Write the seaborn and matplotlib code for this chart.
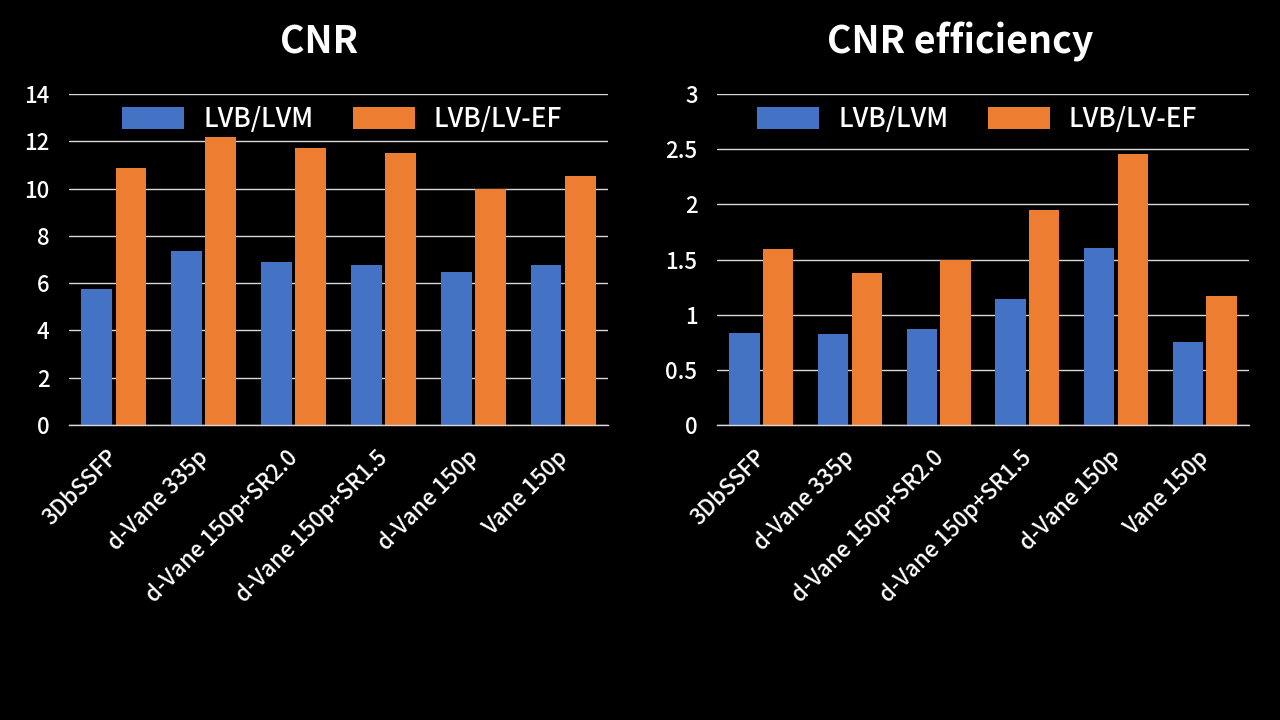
import pandas as pd
import matplotlib
matplotlib.use('Agg')
import matplotlib.pyplot as plt
import matplotlib.transforms as mtransforms
import seaborn as sns

# --- data ---
methods = ['3DbSSFP', 'd-Vane 335p', 'd-Vane 150p+SR2.0',
           'd-Vane 150p+SR1.5', 'd-Vane 150p', 'Vane 150p']
series_names = ['LVB/LVM', 'LVB/LV-EF']

cnr_lvm = [5.76, 7.37, 6.90, 6.77, 6.48, 6.77]
cnr_ef = [10.88, 12.19, 11.73, 11.52, 9.98, 10.54]

eff_lvm = [0.835, 0.826, 0.871, 1.143, 1.606, 0.753]
eff_ef = [1.597, 1.379, 1.494, 1.950, 2.458, 1.170]

cnr_ticks = [0, 2, 4, 6, 8, 10, 12, 14]
eff_ticks = [0, 0.5, 1, 1.5, 2, 2.5, 3]
eff_ticklabels = ['0', '0.5', '1', '1.5', '2', '2.5', '3']

colors = ['#4472C4', '#ED7D31']


def long_df(a, b):
    return pd.DataFrame({
        'method': methods * 2,
        'series': [series_names[0]] * len(methods) + [series_names[1]] * len(methods),
        'value': a + b,
    })


sns.set_style('dark')
plt.rcParams['font.family'] = ['Noto Sans CJK JP', 'DejaVu Sans']
plt.rcParams['text.color'] = 'white'

fig = plt.figure(figsize=(12.8, 7.2), dpi=100, facecolor='black')
ax1 = fig.add_axes([0.0539, 0.4097, 0.4211, 0.4597])
ax2 = fig.add_axes([0.5602, 0.4097, 0.4156, 0.4597])

panels = [
    (ax1, long_df(cnr_lvm, cnr_ef), cnr_ticks, [str(t) for t in cnr_ticks], 0.507),
    (ax2, long_df(eff_lvm, eff_ef), eff_ticks, eff_ticklabels, 0.489),
]

# nudge rotated labels a little left/down, like the original
shift = mtransforms.ScaledTranslation(-5 / 72, -3 / 72, fig.dpi_scale_trans)

for ax, df, ticks, ticklabels, leg_x in panels:
    ax.set_facecolor('black')
    sns.barplot(data=df, x='method', y='value', hue='series', palette=colors,
                width=0.76, gap=0.1, saturation=1, linewidth=0, ax=ax, zorder=3)
    ax.set_ylim(ticks[0], ticks[-1])
    ax.set_xlim(-0.5, len(methods) - 0.5)
    ax.set_yticks(ticks)
    ax.set_yticklabels(ticklabels)
    ax.grid(axis='y', color='#d9d9d9', linewidth=1, zorder=0)
    ax.grid(axis='x', visible=False)
    for side in ['top', 'left', 'right']:
        ax.spines[side].set_visible(False)
    ax.spines['bottom'].set_color('#d9d9d9')
    ax.spines['bottom'].set_linewidth(1)
    ax.spines['bottom'].set_zorder(4)
    ax.tick_params(axis='y', length=0, pad=14, labelsize=16, labelcolor='white')
    ax.tick_params(axis='x', length=0, pad=12, labelsize=16, labelcolor='white')
    plt.setp(ax.get_yticklabels(), fontweight='medium')
    plt.setp(ax.get_xticklabels(), rotation=45, ha='right', va='top',
             rotation_mode='anchor', fontweight='medium')
    for lab in ax.get_xticklabels():
        lab.set_transform(lab.get_transform() + shift)
    ax.set_xlabel('')
    ax.set_ylabel('')
    leg = ax.legend(loc='center', bbox_to_anchor=(leg_x, 0.924), ncol=2,
                    frameon=False, prop={'size': 19, 'weight': 'medium'},
                    handlelength=2.35, handleheight=0.9,
                    handletextpad=0.72, columnspacing=1.5)
    for t in leg.get_texts():
        t.set_color('white')

fig.text(0.249, 0.942, 'CNR', ha='center', va='center', fontsize=27,
         fontweight='bold', color='white')
fig.text(0.75, 0.942, 'CNR efficiency', ha='center', va='center', fontsize=27,
         fontweight='bold', color='white')

fig.savefig('out.png', dpi=100, facecolor='black')
